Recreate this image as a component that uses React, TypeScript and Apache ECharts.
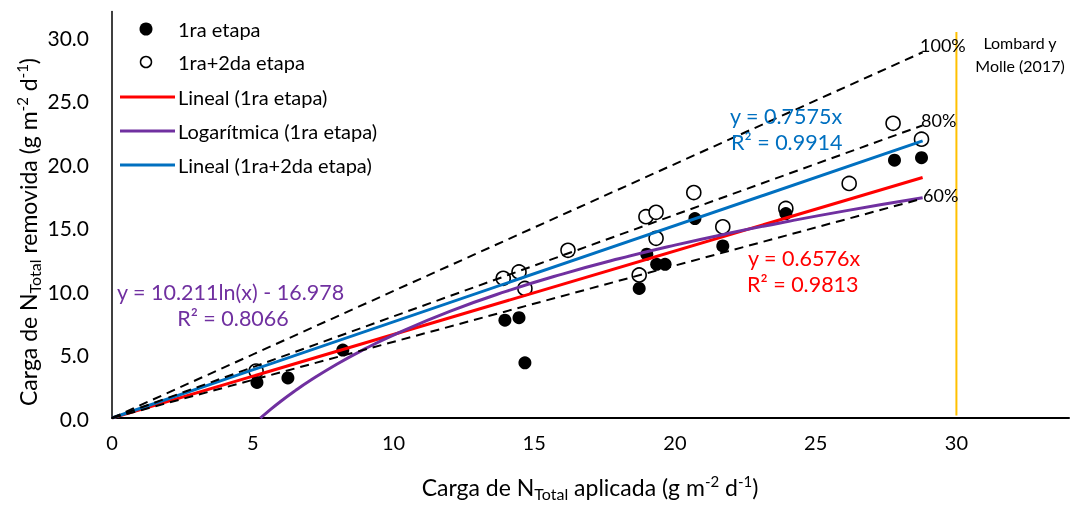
import React, { useEffect, useRef } from "react";
import * as echarts from "echarts";

// ---- data ----
const etapa1: number[][] = [
  [5.15, 2.8], [6.25, 3.15], [8.2, 5.35], [13.96, 7.7], [14.46, 7.9], [14.67, 4.35],
  [18.73, 10.2], [19.0, 12.9], [19.35, 12.1], [19.65, 12.1], [20.71, 15.7],
  [21.7, 13.55], [23.94, 16.1], [27.8, 20.3], [28.76, 20.5],
];
const etapa12: number[][] = [
  [5.12, 3.7], [13.9, 11.0], [14.46, 11.5], [14.67, 10.2], [16.2, 13.2],
  [18.73, 11.26], [18.97, 15.85], [19.33, 16.2], [19.33, 14.15], [20.67, 17.75],
  [21.7, 15.05], [23.94, 16.5], [26.19, 18.47], [27.75, 23.2], [28.76, 21.95],
];
// trendline equations shown in the chart
const LIN1_SLOPE = 0.6576;
const LIN12_SLOPE = 0.7575;
const LOG_A = 10.211;
const LOG_B = -16.978;
const LOG_X = [5.27, 5.5, 6, 6.5, 7, 8, 9, 10, 12, 14, 16, 18, 20, 22, 24, 26, 28.8];
const TREND_X_END = 28.8;
const EFF_RATIOS = [1, 0.8, 0.6];
const EFF_LABELS = ["100%", "80%", "60%"];
const REF_X = 30;
const REF_Y = [0.2, 30.4];
const X_TICKS = { min: 0, max: 34, interval: 5 };
const Y_TICKS = { min: 0, max: 32, interval: 5 };

const FONT = "Lato, 'Open Sans', sans-serif";

export default function App() {
  const ref = useRef<HTMLDivElement>(null);
  useEffect(() => {
    if (!ref.current) return;
    const chart = echarts.init(ref.current, null, { renderer: "svg" });
    const linePts = (k: number) => [[0, 0], [TREND_X_END, k * TREND_X_END]];
    const logPts = LOG_X.map((x) => [x, LOG_A * Math.log(x) + LOG_B]);

    const dashSeries = EFF_RATIOS.map((r, i) => ({
      type: "line",
      name: EFF_LABELS[i],
      data: linePts(r),
      showSymbol: false,
      symbol: "none",
      lineStyle: { color: "#000", width: 2, type: [9, 6] },
      silent: true,
      z: 4,
    }));

    const titleRich = {
      m: { fontSize: 23, fontFamily: FONT, lineHeight: 28, fill: "#000" },
      sub: { fontSize: 16, fontFamily: FONT, lineHeight: 16, verticalAlign: "bottom", fill: "#000" },
      sup: { fontSize: 15, fontFamily: FONT, lineHeight: 15, verticalAlign: "top", fill: "#000" },
    };

    const legendItems = [
      { kind: "filled", label: "1ra etapa", y: 29 },
      { kind: "open", label: "1ra+2da etapa", y: 62 },
      { kind: "line", color: "#FF0000", label: "Lineal (1ra etapa)", y: 97 },
      { kind: "line", color: "#7030A0", label: "Logarítmica (1ra etapa)", y: 131 },
      { kind: "line", color: "#0070C0", label: "Lineal (1ra+2da etapa)", y: 165 },
    ];
    const legendGraphics: any[] = [];
    legendItems.forEach((it: any) => {
      if (it.kind === "filled") {
        legendGraphics.push({ type: "circle", shape: { cx: 146, cy: it.y, r: 6.5 }, style: { fill: "#000" } });
      } else if (it.kind === "open") {
        legendGraphics.push({ type: "circle", shape: { cx: 146, cy: it.y, r: 5.5 }, style: { fill: "#fff", stroke: "#000", lineWidth: 1.5 } });
      } else {
        legendGraphics.push({ type: "line", shape: { x1: 120, y1: it.y, x2: 175, y2: it.y }, style: { stroke: it.color, lineWidth: 3 } });
      }
      legendGraphics.push({
        type: "text",
        x: 178,
        y: it.y,
        style: { text: it.label, fontSize: 20, fontFamily: FONT, fill: "#000", textVerticalAlign: "middle" },
      });
    });

    const textG = (x: number, y: number, text: string, color: string, size: number, align = "left") => ({
      type: "text",
      x,
      y,
      style: { text, fill: color, fontSize: size, fontFamily: FONT, textAlign: align, textVerticalAlign: "middle" },
      z: 10,
    });

    chart.setOption({
      animation: false,
      grid: { left: 112, right: 2, top: 11.6, bottom: 88, containLabel: false },
      xAxis: {
        type: "value",
        min: X_TICKS.min,
        max: X_TICKS.max,
        interval: X_TICKS.interval,
        axisLine: { show: true, onZero: false, lineStyle: { color: "#000", width: 2 } },
        axisTick: { show: false },
        splitLine: { show: false },
        axisLabel: { showMaxLabel: false, fontSize: 20, color: "#000", fontFamily: FONT, margin: 14 },
      },
      yAxis: {
        type: "value",
        min: Y_TICKS.min,
        max: Y_TICKS.max,
        interval: Y_TICKS.interval,
        axisLine: { show: true, lineStyle: { color: "#000", width: 1.5 } },
        axisTick: { show: false },
        splitLine: { show: false },
        axisLabel: {
          showMaxLabel: false,
          fontSize: 21,
          color: "#000",
          fontFamily: FONT,
          margin: 23,
          formatter: (v: number) => v.toFixed(1),
        },
      },
      series: [
        {
          type: "scatter",
          name: "1ra+2da etapa",
          data: etapa12,
          symbol: "circle",
          symbolSize: 14,
          itemStyle: { color: "#fff", borderColor: "#000", borderWidth: 1.6, opacity: 1 },
          z: 2,
        },
        {
          type: "scatter",
          name: "1ra etapa",
          data: etapa1,
          symbol: "circle",
          symbolSize: 13,
          itemStyle: { color: "#000", opacity: 1 },
          z: 2,
        },
        {
          type: "line",
          name: "Lineal (1ra etapa)",
          data: linePts(LIN1_SLOPE),
          symbol: "none",
          lineStyle: { color: "#FF0000", width: 3 },
          z: 3,
        },
        {
          type: "line",
          name: "Logarítmica (1ra etapa)",
          data: logPts,
          symbol: "none",
          smooth: true,
          lineStyle: { color: "#7030A0", width: 3 },
          z: 3,
        },
        {
          type: "line",
          name: "Lineal (1ra+2da etapa)",
          data: linePts(LIN12_SLOPE),
          symbol: "none",
          lineStyle: { color: "#0070C0", width: 3 },
          z: 3,
        },
        ...dashSeries,
        {
          type: "line",
          name: "Lombard y Molle (2017)",
          data: REF_Y.map((y) => [REF_X, y]),
          symbol: "none",
          lineStyle: { color: "#FFC000", width: 2 },
          z: 3,
        },
      ],
      graphic: [
        ...legendGraphics,
        textG(920, 45, EFF_LABELS[0], "#000", 18),
        textG(921, 120, EFF_LABELS[1], "#000", 18),
        textG(923, 195, EFF_LABELS[2], "#000", 18),
        {
          type: "text",
          x: 1020,
          y: 54,
          style: {
            text: "Lombard y\nMolle (2017)",
            fill: "#000",
            fontSize: 16,
            lineHeight: 23,
            fontFamily: FONT,
            textAlign: "center",
            textVerticalAlign: "middle",
          },
        },
        textG(730, 116, "y = " + LIN12_SLOPE + "x", "#0070C0", 21.5),
        textG(731, 142, "R² = 0.9914", "#0070C0", 21.5),
        textG(748, 258, "y = " + LIN1_SLOPE + "x", "#FF0000", 21.5),
        textG(747, 284, "R² = 0.9813", "#FF0000", 21.5),
        textG(117, 292, "y = " + LOG_A + "ln(x) - " + Math.abs(LOG_B), "#7030A0", 21.5),
        textG(233, 318, "R² = 0.8066", "#7030A0", 21.5, "center"),
        {
          type: "text",
          x: 590,
          y: 487,
          style: {
            text: "{m|Carga de N}{sub|Total}{m| aplicada (g m}{sup|-2}{m| d}{sup|-1}{m|)}",
            rich: titleRich,
            textAlign: "center",
            textVerticalAlign: "middle",
          },
        },
        {
          type: "text",
          x: 28,
          y: 232,
          rotation: Math.PI / 2,
          style: {
            text: "{m|Carga de N}{sub|Total}{m| removida (g m}{sup|-2}{m| d}{sup|-1}{m|)}",
            rich: titleRich,
            textAlign: "center",
            textVerticalAlign: "middle",
          },
        },
      ],
    });
    return () => chart.dispose();
  }, []);
  return <div ref={ref} style={{ position: "fixed", left: 0, top: 0, width: 1071, height: 506 }} />;
}
